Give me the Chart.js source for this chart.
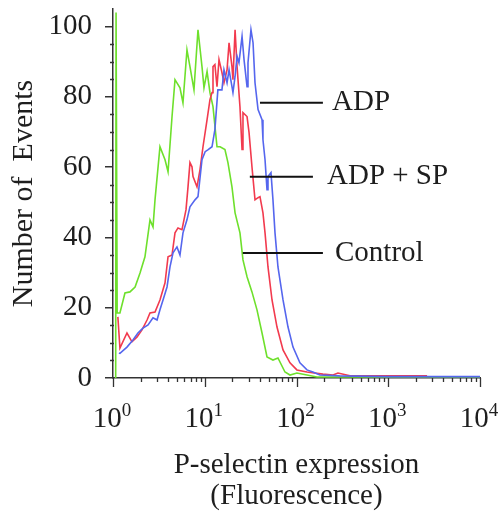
<!DOCTYPE html>
<html>
<head>
<meta charset="utf-8">
<script src="https://cdn.jsdelivr.net/npm/chart.js@4.4.1/dist/chart.umd.min.js"></script>
<style>
    html, body { margin: 0; padding: 0; background: #fff; }
</style>
</head>
<body>
<canvas id="grafico" width="499" height="517"></canvas>
<script>
// series names and colours
var nomesSeries = ['ADP', 'ADP + SP', 'Control'];
var coresSeries = ['#5566ee', '#f23a4e', '#6ee02c'];

// [fluorescence, number of events]
var serieADP = [
    [1.16, 7.1], [1.19, 7.0], [1.42, 8.8], [1.65, 10.8], [1.87, 12.8], [2.12, 14.2], [2.41, 15.1],
    [2.73, 17.1], [3.02, 16.5], [3.25, 19.4], [3.51, 22.2], [3.88, 25.9], [4.18, 31.6], [4.51, 35.6],
    [4.98, 37.3], [5.37, 35.0], [5.79, 41.3], [6.40, 45.0], [6.90, 48.7], [7.83, 50.7], [8.44, 51.6],
    [9.33, 62.1], [10.1, 64.4], [10.9, 65.0], [12.0, 65.8], [12.9, 70.7], [13.9, 82.0], [15.4, 82.0],
    [16.2, 87.7], [17.5, 84.0], [18.4, 87.7], [19.8, 82.9], [20.3, 81.2], [21.4, 85.8], [22.5, 91.5],
    [23.6, 89.7], [25.5, 97.2], [26.8, 90.6], [28.9, 82.9], [29.6, 89.7], [31.9, 99.1], [33.6, 95.4],
    [35.3, 84.0], [38.1, 76.4], [42.1, 73.5], [43.1, 67.8], [45.4, 62.1], [47.7, 53.6], [48.9, 57.3],
    [52.7, 58.4], [55.4, 50.7], [58.3, 41.3], [62.8, 31.6], [71.3, 22.2], [80.8, 14.5], [91.6, 8.8],
    [109, 4.3], [130, 2.3], [151, 1.7], [180, 0.85], [295, 0.6], [1000, 0.4], [10000, 0.4]
];
var serieADPSP = [
    [1.13, 17.4], [1.19, 8.5], [1.42, 12.8], [1.61, 10.3], [1.83, 11.7], [2.07, 13.7], [2.35, 16.5],
    [2.53, 18.5], [2.87, 18.8], [3.25, 22.2], [3.69, 27.1], [3.98, 34.5], [4.40, 35.0], [4.74, 41.3],
    [5.11, 42.7], [5.65, 42.2], [6.25, 47.9], [6.57, 54.4], [6.90, 61.3], [7.26, 60.1], [7.45, 57.3],
    [8.23, 54.4], [8.88, 59.3], [9.57, 65.8], [10.6, 73.5], [11.4, 79.2], [12.0, 81.2], [12.3, 88.6],
    [12.9, 89.2], [13.6, 82.9], [14.3, 90.6], [15.4, 86.9], [16.2, 84.0], [17.5, 87.7], [18.4, 95.4],
    [19.8, 88.6], [20.3, 84.9], [21.4, 99.1], [22.5, 88.6], [24.2, 77.2], [25.5, 65.0], [26.1, 75.5],
    [28.9, 74.4], [30.4, 69.8], [32.7, 60.1], [35.3, 50.7], [38.1, 51.3], [40.0, 51.6], [43.1, 47.0],
    [45.4, 41.3], [48.9, 31.6], [54.1, 22.2], [61.3, 14.5], [71.3, 8.0], [84.9, 4.3], [101, 2.3],
    [130, 1.7], [194, 1.1], [250, 0.85], [283, 1.4], [383, 0.65], [2650, 0.65]
];
var serieControle = [
    [1.07, 0], [1.08, 104], [1.11, 18.5], [1.19, 18.5], [1.35, 24.2], [1.53, 24.5], [1.74, 25.9],
    [1.97, 29.9], [2.23, 34.5], [2.53, 45.0], [2.73, 43.0], [2.87, 50.7], [3.25, 65.8], [3.69, 62.1],
    [3.98, 58.7], [4.40, 74.4], [4.74, 84.9], [5.37, 82.6], [5.79, 78.3], [6.40, 93.4], [6.90, 88.6],
    [7.63, 82.0], [8.44, 99.1], [9.33, 88.6], [9.81, 82.6], [10.6, 87.2], [11.4, 81.2], [12.3, 77.2],
    [13.6, 65.8], [14.7, 65.8], [16.6, 65.0], [17.9, 61.3], [19.8, 54.4], [21.4, 47.0], [24.2, 41.3],
    [26.1, 33.6], [28.9, 28.8], [32.7, 24.5], [37.1, 19.4], [42.1, 12.8], [47.7, 6.0], [55.4, 5.1],
    [62.8, 5.7], [74.9, 1.7], [84.9, 0.85], [101, 1.4], [130, 0.85], [167, 0.3], [10000, 0.3]
];

// axis ticks
var ticksY = [0, 20, 40, 60, 80, 100];
var expoentesX = [0, 1, 2, 3, 4];

var fonte = '"Liberation Serif", "Times New Roman", serif';
var corTexto = '#1e1e1e';
var corEixo = '#333';

// leader lines next to the curves (data units)
var rotulos = [
    { texto: nomesSeries[0], x0: 40, x1: 194, y: 78.3, xTexto: 244 },
    { texto: nomesSeries[1], x0: 31, x1: 151, y: 57.3, xTexto: 215 },
    { texto: nomesSeries[2], x0: 26, x1: 194, y: 35.6, xTexto: 263 }
];

var paraPontos = function (serie) {
    return serie.map(function (p) { return { x: p[0], y: p[1] }; });
};

var marcas = {
    id: 'marcas',
    afterDraw: function (chart) {
        var ctx = chart.ctx;
        var sx = chart.scales.x;
        var sy = chart.scales.y;
        var area = chart.chartArea;

        ctx.save();
        ctx.strokeStyle = corEixo;
        ctx.lineWidth = 1.3;
        ctx.beginPath();

        // minor ticks on the log axis
        for (var d = 0; d < 4; d++) {
            for (var m = 2; m <= 9; m++) {
                var px = Math.round(sx.getPixelForValue(m * Math.pow(10, d))) + 0.5;
                ctx.moveTo(px, area.bottom);
                ctx.lineTo(px, area.bottom + 4);
            }
        }
        expoentesX.forEach(function (e) {
            var px = Math.round(sx.getPixelForValue(Math.pow(10, e))) + 0.5;
            ctx.moveTo(px, area.bottom);
            ctx.lineTo(px, area.bottom + 9);
        });

        // minor ticks on the count axis, every 5
        for (var v = 5; v < 105; v += 5) {
            if (v % 20 === 0) continue;
            var py = Math.round(sy.getPixelForValue(v)) + 0.5;
            ctx.moveTo(area.left - 3, py);
            ctx.lineTo(area.left + 1, py);
        }
        ctx.stroke();

        // 10^n labels
        ctx.fillStyle = corTexto;
        ctx.textBaseline = 'alphabetic';
        ctx.textAlign = 'left';
        expoentesX.forEach(function (e) {
            var px = sx.getPixelForValue(Math.pow(10, e));
            ctx.font = '29px ' + fonte;
            var wBase = ctx.measureText('10').width;
            ctx.font = '19px ' + fonte;
            var wExp = ctx.measureText(String(e)).width;
            var esq = px - (wBase + wExp) / 2 - 1;
            ctx.font = '29px ' + fonte;
            ctx.fillText('10', esq, area.bottom + 49);
            ctx.font = '19px ' + fonte;
            ctx.fillText(String(e), esq + wBase, area.bottom + 38);
        });

        // annotations
        ctx.lineWidth = 2;
        ctx.strokeStyle = '#111';
        ctx.font = '29px ' + fonte;
        ctx.textBaseline = 'middle';
        rotulos.forEach(function (r) {
            var py = sy.getPixelForValue(r.y);
            ctx.beginPath();
            ctx.moveTo(sx.getPixelForValue(r.x0), py);
            ctx.lineTo(sx.getPixelForValue(r.x1), py);
            ctx.stroke();
            ctx.fillText(r.texto, sx.getPixelForValue(r.xTexto), py);
        });
        ctx.restore();
    }
};

var series = [serieADP, serieADPSP, serieControle];

var configGrafico = {
    type: 'line',
    data: {
        datasets: series.map(function (s, i) {
            return {
                label: nomesSeries[i],
                data: paraPontos(s),
                borderColor: coresSeries[i],
                borderWidth: 1.6,
                pointRadius: 0,
                tension: 0,
                fill: false
            };
        })
    },
    options: {
        responsive: false,
        animation: false,
        events: [],
        layout: { padding: { top: 9, right: 19, left: 0, bottom: 0 } },
        plugins: {
            legend: { display: false },
            tooltip: { enabled: false }
        },
        scales: {
            x: {
                type: 'logarithmic',
                min: 1,
                max: 10000,
                grid: { display: false },
                border: { color: corEixo, width: 1.5 },
                ticks: { display: false },
                title: {
                    display: true,
                    text: ['P-selectin expression', '(Fluorescence)'],
                    color: corTexto,
                    font: { family: fonte, size: 29, lineHeight: 1.07 },
                    padding: { top: 0, bottom: 5 }
                },
                afterFit: function (s) { s.height = 139; }
            },
            y: {
                min: 0,
                max: 105,
                grid: { drawOnChartArea: false, tickLength: 8, color: corEixo, lineWidth: 1.5 },
                border: { color: corEixo, width: 1.5 },
                ticks: {
                    stepSize: 20,
                    includeBounds: false,
                    padding: 13,
                    color: corTexto,
                    font: { family: fonte, size: 29 },
                    callback: function (v) { return ticksY.indexOf(v) >= 0 ? String(v) : ''; }
                },
                title: {
                    display: true,
                    text: 'Number of  Events',
                    color: corTexto,
                    font: { family: fonte, size: 30, lineHeight: 1.07 },
                    padding: { top: 8, bottom: 0 }
                },
                afterFit: function (s) {
                    s.width = 113;
                    s.paddingTop = 0;
                    s.paddingBottom = 0;
                }
            }
        }
    },
    plugins: [marcas]
};

var grafico = new Chart(document.getElementById('grafico').getContext('2d'), configGrafico);
</script>
</body>
</html>
